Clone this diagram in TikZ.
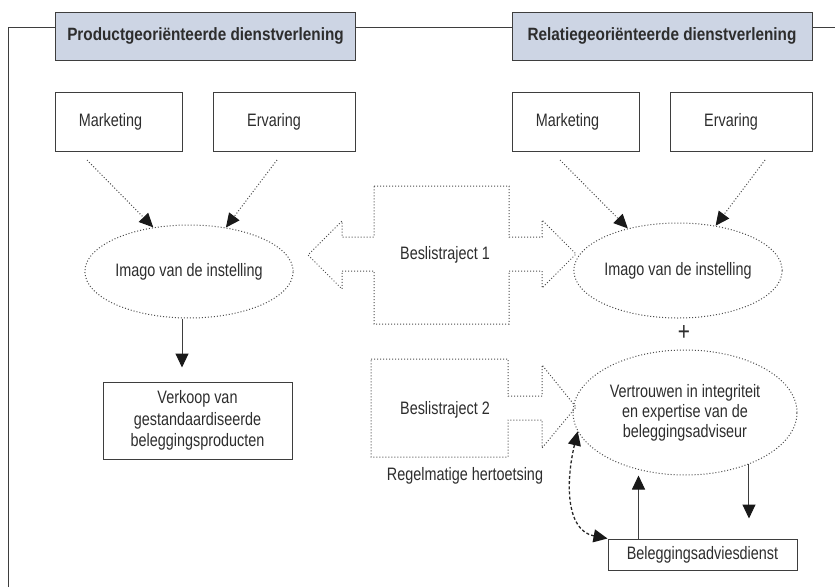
\documentclass[tikz,border=0pt]{standalone}
\usepackage{fontspec}
\setmainfont[FakeStretch=0.8, BoldFeatures={FakeStretch=0.86}]{Liberation Sans}
\usetikzlibrary{arrows.meta,shapes.geometric}
\definecolor{kopblauw}{RGB}{205,213,228}
\definecolor{lijngrijs}{RGB}{62,62,62}
\definecolor{tekstgrijs}{RGB}{45,45,45}
\tikzset{
	stippel/.style={line width=1pt, dash pattern=on 1pt off 2pt, color=black!70},
	kop/.style={draw=lijngrijs, line width=1pt, fill=kopblauw, minimum width=300pt, minimum height=48pt, inner sep=0pt, font=\fontsize{17.8}{20}\selectfont\bfseries, text=tekstgrijs},
	blok/.style={rectangle, draw=lijngrijs, line width=1pt, inner sep=0pt, align=center, font=\fontsize{18}{21.5}\selectfont, text=tekstgrijs},
	wolk/.style={ellipse, draw, stippel, inner sep=0pt, align=center, font=\fontsize{18}{20}\selectfont, text=tekstgrijs},
	tekst/.style={inner sep=0pt, align=center, font=\fontsize{18}{20}\selectfont, text=tekstgrijs},
	punt/.style={-{Triangle[length=14pt,width=13pt,color=black!90]}},
	dubbelpunt/.style={{Triangle[length=14pt,width=13pt,color=black!90]}-{Triangle[length=14pt,width=13pt,color=black!90]}}
}

\begin{document}
\begin{tikzpicture}[x=1pt, y=-1pt]
			%%%%% START %%%%%
			\useasboundingbox (0, 0) rectangle (835, 587);
			
			% kader
			\draw[line width=1pt, color=lijngrijs] (8, 587) -- (8, 27) -- (835, 27);
			
			% koppen
			\node[kop] (kopP) at (205.5, 36) {Productgeoriënteerde dienstverlening};
			\node[kop] (kopR) at (662, 36) {Relatiegeoriënteerde dienstverlening};
			
			% productgeorienteerd
			\node[blok, minimum width=127pt, minimum height=59pt] (mkP) at (118.5, 121.5) {\hspace*{-16pt}Marketing};
			\node[blok, minimum width=142pt, minimum height=59pt] (erP) at (284, 121.5) {\hspace*{-20pt}Ervaring};
			\node[wolk, minimum width=206pt, minimum height=93pt] (imP) at (189, 271.5) {Imago van de instelling};
			\node[blok, minimum width=189pt, minimum height=77pt] (verkoop) at (197.5, 420.5) {Verkoop van\\gestandaardiseerde\\beleggingsproducten};
			
			\coordinate (mkPstart) at (87, 160);
			\coordinate (erPstart) at (277, 160);
			\draw[stippel, punt] (mkPstart) -- (imP.129);
			\draw[stippel, punt] (erPstart) -- (imP.50);
			\draw[line width=1pt, color=lijngrijs, punt, shorten >=14pt] ([xshift=-7pt]imP.south) -- ([xshift=-7pt]imP.south |- verkoop.north);
			
			% beslistrajecten
			\draw[stippel] (374, 186) -- (509, 186) -- (509, 237) -- (542, 237) -- (542, 220) -- (576, 254)
				-- (542, 288) -- (542, 271) -- (509, 271) -- (509, 324) -- (374, 324) -- (374, 271)
				-- (342, 271) -- (342, 289) -- (308, 255) -- (342, 221) -- (342, 237) -- (374, 237) -- cycle;
			\node[tekst] (besl1) at (445, 255) {Beslistraject 1};
			
			\draw[stippel] (371, 359) -- (508, 359) -- (508, 396) -- (542, 396) -- (542, 365) -- (576, 407)
				-- (542, 448) -- (542, 420) -- (508, 420) -- (508, 457) -- (371, 457) -- cycle;
			\node[tekst] (besl2) at (445, 410) {Beslistraject 2};
			
			% relatiegeorienteerd
			\node[blok, minimum width=127pt, minimum height=59pt] (mkR) at (575.5, 121.5) {\hspace*{-16pt}Marketing};
			\node[blok, minimum width=142pt, minimum height=59pt] (erR) at (741, 121.5) {\hspace*{-20pt}Ervaring};
			\node[wolk, minimum width=206pt, minimum height=95pt] (imR) at (678, 270.5) {Imago van de instelling};
			\node[tekst, font=\fontsize{26}{26}\selectfont] (plus) at (684, 333) {+};
			\node[wolk, minimum width=224pt, minimum height=125pt] (vertr) at (685, 412.5) {Vertrouwen in integriteit\\en expertise van de\\beleggingsadviseur};
			\node[blok, minimum width=189pt, minimum height=31pt] (advies) at (702.5, 554.5) {Beleggingsadviesdienst};
			\node[tekst] (hertoets) at (465, 476) {Regelmatige hertoetsing};
			
			\coordinate (mkRstart) at (560, 160);
			\coordinate (erRstart) at (765, 160);
			\draw[stippel, punt] (mkRstart) -- (imR.140);
			\draw[stippel, punt] (erRstart) -- (imR.50);
			\draw[line width=1pt, color=lijngrijs, punt] ([xshift=31pt]advies.north west) -- ([xshift=31pt]advies.north west |- vertr.south);
			\draw[line width=1pt, color=lijngrijs, punt, shorten >=20pt] (vertr.-39) -- (vertr.-39 |- advies.north);
			\draw[line width=1.3pt, dash pattern=on 3pt off 2.2pt, color=black!85, dubbelpunt] (advies.north west) .. controls +(-42, -8) and +(-12, 50) .. (vertr.190);
			
			%%%%% END %%%%%
\end{tikzpicture}
\end{document}
